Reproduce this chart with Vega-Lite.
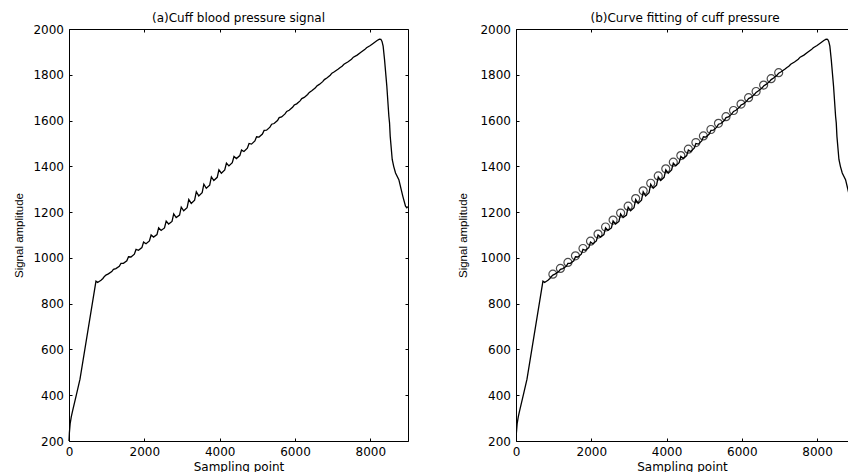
{
  "background": "white",
  "padding": {"left": 13, "top": 12, "right": 0, "bottom": 0},
  "autosize": {"type": "pad"},
  "bounds": "flush",
  "spacing": 108,
  "config": {
    "view": {"stroke": null},
    "font": "DejaVu Sans",
    "axis": {
      "grid": false,
      "domainColor": "black",
      "domainWidth": 1,
      "tickColor": "black",
      "tickWidth": 1,
      "tickSize": -3,
      "labelColor": "black",
      "labelFont": "DejaVu Sans",
      "labelFontSize": 12,
      "labelFlush": false,
      "labelOverlap": false,
      "format": "d",
      "titleColor": "black",
      "titleFontWeight": "normal"
    },
    "title": {"font": "DejaVu Sans", "fontSize": 12, "fontWeight": "normal", "color": "black", "offset": -2}
  },
  "datasets": {
    "signal": [
      {"x": 0, "y": 200}, {"x": 10, "y": 235}, {"x": 30, "y": 275}, {"x": 60, "y": 305}, {"x": 100, "y": 335},
      {"x": 200, "y": 405}, {"x": 292, "y": 470}, {"x": 716, "y": 898}, {"x": 760, "y": 893}, {"x": 800, "y": 897},
      {"x": 850, "y": 902}, {"x": 900, "y": 910},
      {"x": 935, "y": 918}, {"x": 980, "y": 925}, {"x": 1045, "y": 930},
      {"x": 1135, "y": 940}, {"x": 1180, "y": 950}, {"x": 1245, "y": 953},
      {"x": 1335, "y": 963}, {"x": 1380, "y": 976}, {"x": 1445, "y": 976},
      {"x": 1535, "y": 987}, {"x": 1580, "y": 1005}, {"x": 1645, "y": 1004},
      {"x": 1735, "y": 1016}, {"x": 1780, "y": 1037}, {"x": 1845, "y": 1033},
      {"x": 1935, "y": 1045}, {"x": 1980, "y": 1069}, {"x": 2045, "y": 1062},
      {"x": 2135, "y": 1074}, {"x": 2180, "y": 1100}, {"x": 2245, "y": 1091},
      {"x": 2335, "y": 1102}, {"x": 2380, "y": 1131}, {"x": 2445, "y": 1120},
      {"x": 2535, "y": 1131}, {"x": 2580, "y": 1161}, {"x": 2645, "y": 1148},
      {"x": 2735, "y": 1159}, {"x": 2780, "y": 1192}, {"x": 2845, "y": 1176},
      {"x": 2935, "y": 1187}, {"x": 2980, "y": 1222}, {"x": 3045, "y": 1206},
      {"x": 3135, "y": 1219}, {"x": 3180, "y": 1255}, {"x": 3245, "y": 1238},
      {"x": 3335, "y": 1252}, {"x": 3380, "y": 1289}, {"x": 3445, "y": 1271},
      {"x": 3535, "y": 1285}, {"x": 3580, "y": 1322}, {"x": 3645, "y": 1304},
      {"x": 3735, "y": 1318}, {"x": 3780, "y": 1354}, {"x": 3845, "y": 1338},
      {"x": 3935, "y": 1352}, {"x": 3980, "y": 1385}, {"x": 4045, "y": 1370},
      {"x": 4135, "y": 1384}, {"x": 4180, "y": 1414}, {"x": 4245, "y": 1402},
      {"x": 4335, "y": 1416}, {"x": 4380, "y": 1443}, {"x": 4445, "y": 1434},
      {"x": 4535, "y": 1447}, {"x": 4580, "y": 1471}, {"x": 4645, "y": 1465},
      {"x": 4735, "y": 1479}, {"x": 4780, "y": 1500}, {"x": 4845, "y": 1497},
      {"x": 4935, "y": 1511}, {"x": 4980, "y": 1529}, {"x": 5045, "y": 1528},
      {"x": 5135, "y": 1541}, {"x": 5180, "y": 1557}, {"x": 5245, "y": 1558},
      {"x": 5335, "y": 1571}, {"x": 5380, "y": 1584}, {"x": 5445, "y": 1587},
      {"x": 5535, "y": 1600}, {"x": 5580, "y": 1613}, {"x": 5645, "y": 1616},
      {"x": 5735, "y": 1629}, {"x": 5780, "y": 1640}, {"x": 5845, "y": 1645},
      {"x": 5935, "y": 1658}, {"x": 5980, "y": 1668}, {"x": 6045, "y": 1673},
      {"x": 6135, "y": 1686}, {"x": 6180, "y": 1696}, {"x": 6245, "y": 1701},
      {"x": 6335, "y": 1714}, {"x": 6380, "y": 1723}, {"x": 6445, "y": 1730},
      {"x": 6535, "y": 1742}, {"x": 6580, "y": 1751}, {"x": 6645, "y": 1758},
      {"x": 6735, "y": 1770}, {"x": 6780, "y": 1779}, {"x": 6845, "y": 1786},
      {"x": 6935, "y": 1798}, {"x": 6980, "y": 1807}, {"x": 7045, "y": 1813},
      {"x": 7150, "y": 1825}, {"x": 7200, "y": 1832}, {"x": 7250, "y": 1837}, {"x": 7300, "y": 1846},
      {"x": 7400, "y": 1856}, {"x": 7500, "y": 1868}, {"x": 7550, "y": 1877}, {"x": 7650, "y": 1886},
      {"x": 7750, "y": 1898}, {"x": 7850, "y": 1910}, {"x": 7900, "y": 1918}, {"x": 8000, "y": 1928},
      {"x": 8100, "y": 1940}, {"x": 8180, "y": 1950}, {"x": 8240, "y": 1956}, {"x": 8280, "y": 1955},
      {"x": 8310, "y": 1946}, {"x": 8340, "y": 1925}, {"x": 8377, "y": 1866}, {"x": 8438, "y": 1750},
      {"x": 8492, "y": 1619}, {"x": 8510, "y": 1590}, {"x": 8528, "y": 1531}, {"x": 8581, "y": 1430},
      {"x": 8620, "y": 1400}, {"x": 8669, "y": 1371}, {"x": 8757, "y": 1342}, {"x": 8863, "y": 1269},
      {"x": 8934, "y": 1226}, {"x": 8969, "y": 1219}, {"x": 9000, "y": 1224}
    ],
    "beats": [
      {"x": 980, "y": 929}, {"x": 1180, "y": 954}, {"x": 1380, "y": 980}, {"x": 1580, "y": 1009},
      {"x": 1780, "y": 1041}, {"x": 1980, "y": 1073}, {"x": 2180, "y": 1104}, {"x": 2380, "y": 1135},
      {"x": 2580, "y": 1165}, {"x": 2780, "y": 1196}, {"x": 2980, "y": 1226}, {"x": 3180, "y": 1259},
      {"x": 3380, "y": 1293}, {"x": 3580, "y": 1326}, {"x": 3780, "y": 1358}, {"x": 3980, "y": 1389},
      {"x": 4180, "y": 1418}, {"x": 4380, "y": 1447}, {"x": 4580, "y": 1475}, {"x": 4780, "y": 1504},
      {"x": 4980, "y": 1533}, {"x": 5180, "y": 1561}, {"x": 5380, "y": 1588}, {"x": 5580, "y": 1617},
      {"x": 5780, "y": 1644}, {"x": 5980, "y": 1672}, {"x": 6180, "y": 1700}, {"x": 6380, "y": 1727},
      {"x": 6580, "y": 1755}, {"x": 6780, "y": 1783}, {"x": 6980, "y": 1809}
    ]
  },
  "hconcat": [
    {
      "width": 339,
      "height": 412,
      "title": {"text": "(a)Cuff blood pressure signal"},
      "layer": [
        {
          "data": {"name": "signal"},
          "mark": {"type": "line", "color": "black", "strokeWidth": 1.3},
          "encoding": {
            "x": {"field": "x", "type": "quantitative", "scale": {"domain": [0, 9000], "nice": false},
                  "axis": {"orient": "bottom", "values": [0, 2000, 4000, 6000, 8000], "title": "Sampling point",
                           "titleFont": "DejaVu Sans", "titleFontSize": 12, "titlePadding": 4, "labelPadding": 8}},
            "y": {"field": "y", "type": "quantitative", "scale": {"domain": [200, 2000], "nice": false},
                  "axis": {"orient": "left", "values": [200, 400, 600, 800, 1000, 1200, 1400, 1600, 1800, 2000],
                           "title": "Signal amplitude", "titleFont": "Liberation Sans", "titleFontSize": 11.5,
                           "titlePadding": 8.5, "labelPadding": 8.5}}
          }
        },
        {
          "data": {"name": "signal"},
          "mark": {"type": "line", "opacity": 0},
          "encoding": {
            "x": {"field": "x", "type": "quantitative", "scale": {"domain": [0, 9000], "nice": false},
                  "axis": {"orient": "top", "values": [0, 2000, 4000, 6000, 8000], "labels": false, "title": null}},
            "y": {"field": "y", "type": "quantitative", "scale": {"domain": [200, 2000], "nice": false},
                  "axis": {"orient": "right", "values": [200, 400, 600, 800, 1000, 1200, 1400, 1600, 1800, 2000],
                           "labels": false, "title": null}}
          }
        }
      ],
      "resolve": {"axis": {"x": "independent", "y": "independent"}}
    },
    {
      "width": 332,
      "height": 412,
      "title": {"text": "(b)Curve fitting of cuff pressure", "dx": 3},
      "layer": [
        {
          "data": {"name": "signal"},
          "mark": {"type": "line", "color": "black", "strokeWidth": 1.3, "clip": true},
          "encoding": {
            "x": {"field": "x", "type": "quantitative", "scale": {"domain": [0, 8822], "nice": false},
                  "axis": {"orient": "bottom", "values": [0, 2000, 4000, 6000, 8000], "title": "Sampling point",
                           "titleFont": "DejaVu Sans", "titleFontSize": 12, "titlePadding": 4, "labelPadding": 8}},
            "y": {"field": "y", "type": "quantitative", "scale": {"domain": [200, 2000], "nice": false},
                  "axis": {"orient": "left", "values": [200, 400, 600, 800, 1000, 1200, 1400, 1600, 1800, 2000],
                           "title": "Signal amplitude", "titleFont": "Liberation Sans", "titleFontSize": 11.5,
                           "titlePadding": 11.5, "labelPadding": 8.5}}
          }
        },
        {
          "data": {"name": "beats"},
          "mark": {"type": "point", "shape": "circle", "filled": false, "stroke": "black", "strokeWidth": 1.2, "size": 64, "clip": true},
          "encoding": {
            "x": {"field": "x", "type": "quantitative", "scale": {"domain": [0, 8822], "nice": false},
                  "axis": {"orient": "top", "values": [0, 2000, 4000, 6000, 8000], "labels": false, "title": null}},
            "y": {"field": "y", "type": "quantitative", "scale": {"domain": [200, 2000], "nice": false}, "axis": null}
          }
        }
      ],
      "resolve": {"axis": {"x": "independent", "y": "independent"}}
    }
  ]
}
